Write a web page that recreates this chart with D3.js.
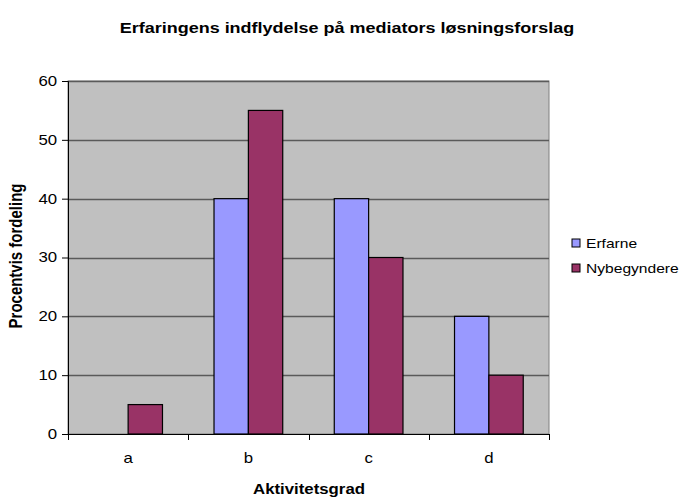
<!DOCTYPE html>
<html>
<head>
<meta charset="utf-8">
<script src="https://cdn.jsdelivr.net/npm/d3@7"></script>
<style>
  body { margin: 0; background: #fff; }
  text { font-family: "Liberation Sans", Arial, sans-serif; fill: #000; }
</style>
</head>
<body>
<svg id="chart" width="685" height="497"></svg>
<script>
const categories = ["a", "b", "c", "d"];
const seriesNames = ["Erfarne", "Nybegyndere"];
const erfarne = [0, 40, 40, 20];
const nybegyndere = [5, 55, 30, 10];
const yTicks = [0, 10, 20, 30, 40, 50, 60];
const colors = ["#9999FF", "#993366"];

// text in this chart is drawn slightly widened
const SX = 1.2;

const svg = d3.select("#chart");
const plot = { left: 68, right: 549, top: 81, bottom: 434 };

const x = d3.scaleBand().domain(categories).range([plot.left, plot.right]);
const inner = d3.scaleBand().domain(seriesNames)
  .range([0, x.bandwidth()]).paddingInner(0).paddingOuter(0.75);
const y = d3.scaleLinear().domain([0, 60]).range([plot.bottom, plot.top]);

// plot background
svg.append("rect")
  .attr("x", plot.left).attr("y", plot.top)
  .attr("width", plot.right - plot.left).attr("height", plot.bottom - plot.top)
  .attr("fill", "#C0C0C0").attr("stroke", "#808080").attr("stroke-width", 1);

// horizontal gridlines
svg.append("g").selectAll("line").data(yTicks.filter(d => d > 0)).join("line")
  .attr("x1", plot.left).attr("x2", plot.right)
  .attr("y1", d => Math.round(y(d)) + 0.5).attr("y2", d => Math.round(y(d)) + 0.5)
  .attr("stroke", "#5a5a5a").attr("stroke-width", 1.5);

// bars
const data = categories.map((c, i) => ({ c, vals: [erfarne[i], nybegyndere[i]] }));
const groups = svg.append("g").selectAll("g").data(data).join("g")
  .attr("transform", d => `translate(${x(d.c)},0)`);
groups.selectAll("rect")
  .data(d => d.vals.map((v, j) => ({ v, s: seriesNames[j], j })).filter(e => e.v > 0))
  .join("rect")
  .attr("x", e => inner(e.s))
  .attr("width", inner.bandwidth())
  .attr("y", e => y(e.v))
  .attr("height", e => y(0) - y(e.v))
  .attr("fill", e => colors[e.j])
  .attr("stroke", "#000").attr("stroke-width", 1.2);

// y axis
const yAxis = d3.axisLeft(y).tickValues(yTicks).tickSize(6).tickPadding(3).tickFormat(d3.format("d"));
const yg = svg.append("g").attr("transform", `translate(${plot.left},0)`).call(yAxis);
yg.select(".domain").attr("stroke", "#000").attr("stroke-width", 1);
yg.selectAll(".tick line").attr("stroke", "#000");
yg.selectAll("text").attr("font-size", 14).attr("fill", "#000")
  .attr("font-family", "Liberation Sans, Arial, sans-serif")
  .attr("transform", `scale(${SX},1)`);

// x axis
const xAxis = d3.axisBottom(x).tickSize(0).tickPadding(19);
const xg = svg.append("g").attr("transform", `translate(0,${plot.bottom})`).call(xAxis);
xg.select(".domain").attr("stroke", "#000").attr("stroke-width", 1);
xg.selectAll("text").attr("font-size", 14).attr("fill", "#000")
  .attr("font-family", "Liberation Sans, Arial, sans-serif")
  .attr("transform", `scale(${SX},1)`);
// category separators
svg.append("g").selectAll("line").data(categories.concat(["end"])).join("line")
  .attr("x1", (d, i) => Math.round(plot.left + i * x.bandwidth()) + 0.5)
  .attr("x2", (d, i) => Math.round(plot.left + i * x.bandwidth()) + 0.5)
  .attr("y1", plot.bottom).attr("y2", plot.bottom + 6)
  .attr("stroke", "#000");

// titles
svg.append("text").attr("transform", `translate(347,33) scale(${SX},1)`)
  .attr("text-anchor", "middle")
  .attr("font-size", 15).attr("font-weight", "bold")
  .text("Erfaringens indflydelse på mediators løsningsforslag");
svg.append("text").attr("transform", `translate(309,494) scale(${SX},1)`)
  .attr("text-anchor", "middle")
  .attr("font-size", 14).attr("font-weight", "bold").text("Aktivitetsgrad");
svg.append("text")
  .attr("transform", `translate(22,256) scale(${SX},1) rotate(-90)`)
  .attr("text-anchor", "middle").attr("font-size", 15).attr("font-weight", "bold")
  .text("Procentvis fordeling");

// legend
const legend = svg.append("g").selectAll("g").data(seriesNames).join("g")
  .attr("transform", (d, i) => `translate(572,${239 + i * 25})`);
legend.append("rect").attr("width", 8).attr("height", 8)
  .attr("fill", (d, i) => colors[i]).attr("stroke", "#000");
legend.append("text").attr("transform", `translate(14,9) scale(${SX},1)`)
  .attr("font-size", 13).text(d => d);
</script>
</body>
</html>
